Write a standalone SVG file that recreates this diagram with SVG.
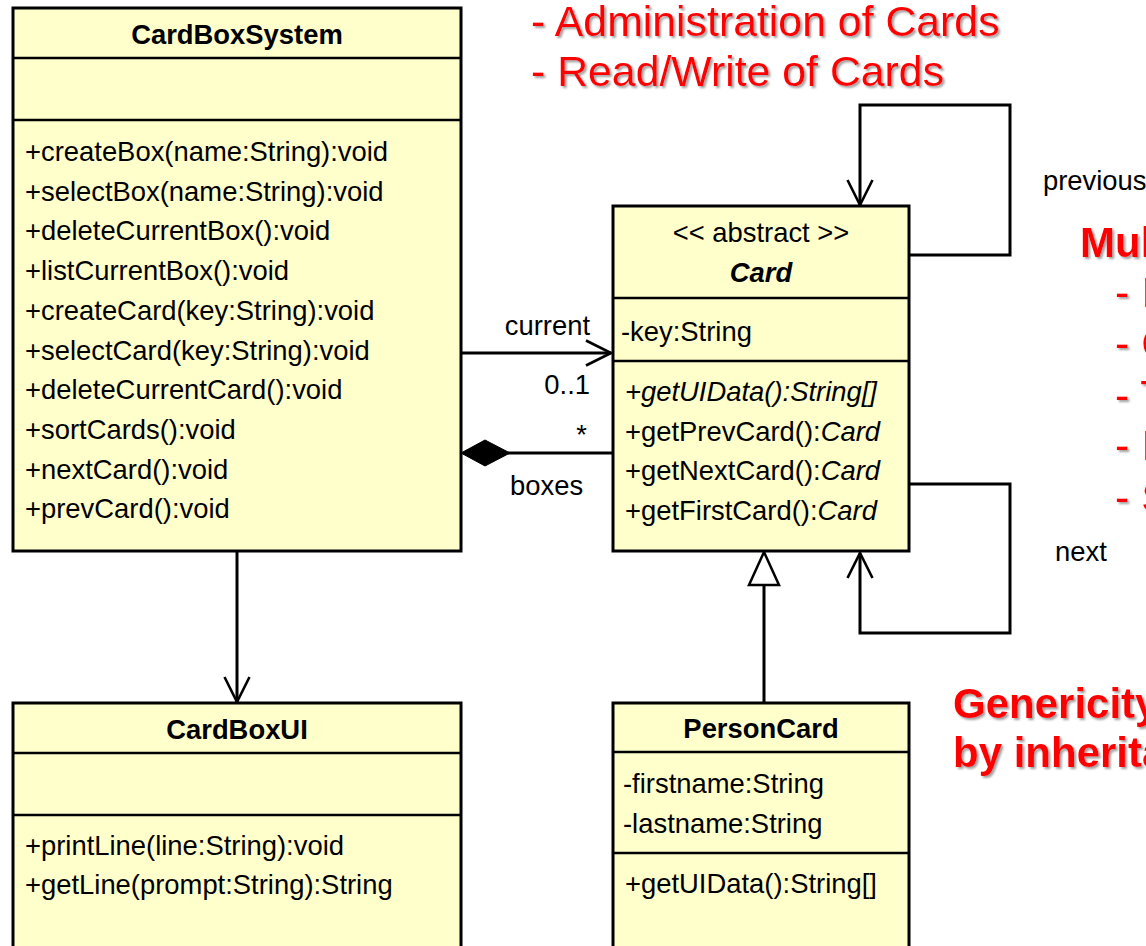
<svg xmlns="http://www.w3.org/2000/svg" width="1146" height="946" viewBox="0 0 1146 946">
<style>
.box{fill:#FFFFCC;stroke:#000;stroke-width:3}
.dv{stroke:#000;stroke-width:2.5}
.t{font-family:"Liberation Sans",Arial,sans-serif;font-size:27.4px;fill:#000}
.b{font-weight:bold}
.i{font-style:italic}
.ln{fill:none;stroke:#000;stroke-width:3}
.red{font-family:"Liberation Sans",Arial,sans-serif;font-size:42.8px;fill:#FF0000;filter:url(#sh)}
.rb{font-weight:bold;font-size:42px}
</style>
<defs>
<filter id="sh" x="-5%" y="-20%" width="115%" height="150%">
<feDropShadow dx="2" dy="2" stdDeviation="0.8" flood-color="#888" flood-opacity="0.8"/>
</filter>
<marker id="open" viewBox="0 0 28 28" refX="26" refY="14" markerWidth="28" markerHeight="28" markerUnits="userSpaceOnUse" orient="auto">
<path d="M1,1.5 L26,14 L1,26.5" fill="none" stroke="#000" stroke-width="2.6"/>
</marker>
</defs>
<rect width="1146" height="946" fill="#fff"/>

<g id="notes">
<text class="red" x="531" y="36">- Administration of Cards</text>
<text class="red" x="531" y="86">- Read/Write of Cards</text>
<text class="red rb" x="1080" y="257">Mul</text>
<text class="red" x="1115" y="307">- I</text>
<text class="red" x="1115" y="358">- C</text>
<text class="red" x="1115" y="410">- T</text>
<text class="red" x="1115" y="460">- I</text>
<text class="red" x="1115" y="512">- S</text>
<text class="red rb" x="953" y="718">Genericity</text>
<text class="red rb" x="953" y="767">by inherita</text>
</g>

<g id="connectors">
<path class="ln" d="M461,353 H611" marker-end="url(#open)"/>
<text class="t" x="590" y="335" text-anchor="end">current</text>
<text class="t" x="590" y="394" text-anchor="end">0..1</text>
<path class="ln" d="M508,453 H613"/>
<polygon points="461,453 485,440 510,453 485,466" fill="#000" stroke="#000" stroke-width="1"/>
<text class="t" x="587" y="444" text-anchor="end">*</text>
<text class="t" x="510" y="495">boxes</text>
<path class="ln" d="M237,551 V702" marker-end="url(#open)"/>
<path class="ln" d="M910,255 H1010 V105 H860 V205" marker-end="url(#open)"/>
<text class="t" x="1043" y="190">previous</text>
<path class="ln" d="M910,484 H1010 V633 H860 V553" marker-end="url(#open)"/>
<text class="t" x="1055" y="561">next</text>
<path class="ln" d="M764,703 V585"/>
<polygon points="764,552 749,585 779,585" fill="#fff" stroke="#000" stroke-width="2.5"/>
</g>

<g id="CardBoxSystem">
<rect class="box" x="13" y="8" width="448" height="543"/>
<line class="dv" x1="13" y1="58" x2="461" y2="58"/>
<line class="dv" x1="13" y1="120" x2="461" y2="120"/>
<text class="t b" x="237" y="44" text-anchor="middle">CardBoxSystem</text>
<text class="t" x="25" y="161">+createBox(name:String):void</text>
<text class="t" x="25" y="200.7">+selectBox(name:String):void</text>
<text class="t" x="25" y="240.4">+deleteCurrentBox():void</text>
<text class="t" x="25" y="280.1">+listCurrentBox():void</text>
<text class="t" x="25" y="319.8">+createCard(key:String):void</text>
<text class="t" x="25" y="359.5">+selectCard(key:String):void</text>
<text class="t" x="25" y="399.2">+deleteCurrentCard():void</text>
<text class="t" x="25" y="438.9">+sortCards():void</text>
<text class="t" x="25" y="478.6">+nextCard():void</text>
<text class="t" x="25" y="518.3">+prevCard():void</text>
</g>

<g id="Card">
<rect class="box" x="613" y="206" width="296" height="345"/>
<line class="dv" x1="613" y1="298" x2="909" y2="298"/>
<line class="dv" x1="613" y1="361" x2="909" y2="361"/>
<text class="t" x="761" y="242" text-anchor="middle">&lt;&lt; abstract &gt;&gt;</text>
<text class="t b i" x="761" y="282" text-anchor="middle">Card</text>
<text class="t" x="621" y="341">-key:String</text>
<text class="t i" x="625" y="401">+getUIData():String[]</text>
<text class="t" x="625" y="441">+getPrevCard():<tspan class="i">Card</tspan></text>
<text class="t" x="625" y="480">+getNextCard():<tspan class="i">Card</tspan></text>
<text class="t" x="625" y="520">+getFirstCard():<tspan class="i">Card</tspan></text>
</g>

<g id="CardBoxUI">
<rect class="box" x="13" y="703" width="448" height="260"/>
<line class="dv" x1="13" y1="753" x2="461" y2="753"/>
<line class="dv" x1="13" y1="815" x2="461" y2="815"/>
<text class="t b" x="237" y="739" text-anchor="middle">CardBoxUI</text>
<text class="t" x="25" y="855">+printLine(line:String):void</text>
<text class="t" x="25" y="894">+getLine(prompt:String):String</text>
</g>

<g id="PersonCard">
<rect class="box" x="613" y="703" width="296" height="260"/>
<line class="dv" x1="613" y1="752" x2="909" y2="752"/>
<line class="dv" x1="613" y1="853" x2="909" y2="853"/>
<text class="t b" x="761" y="738" text-anchor="middle">PersonCard</text>
<text class="t" x="623" y="793">-firstname:String</text>
<text class="t" x="623" y="833">-lastname:String</text>
<text class="t" x="625" y="893">+getUIData():String[]</text>
</g>
</svg>
